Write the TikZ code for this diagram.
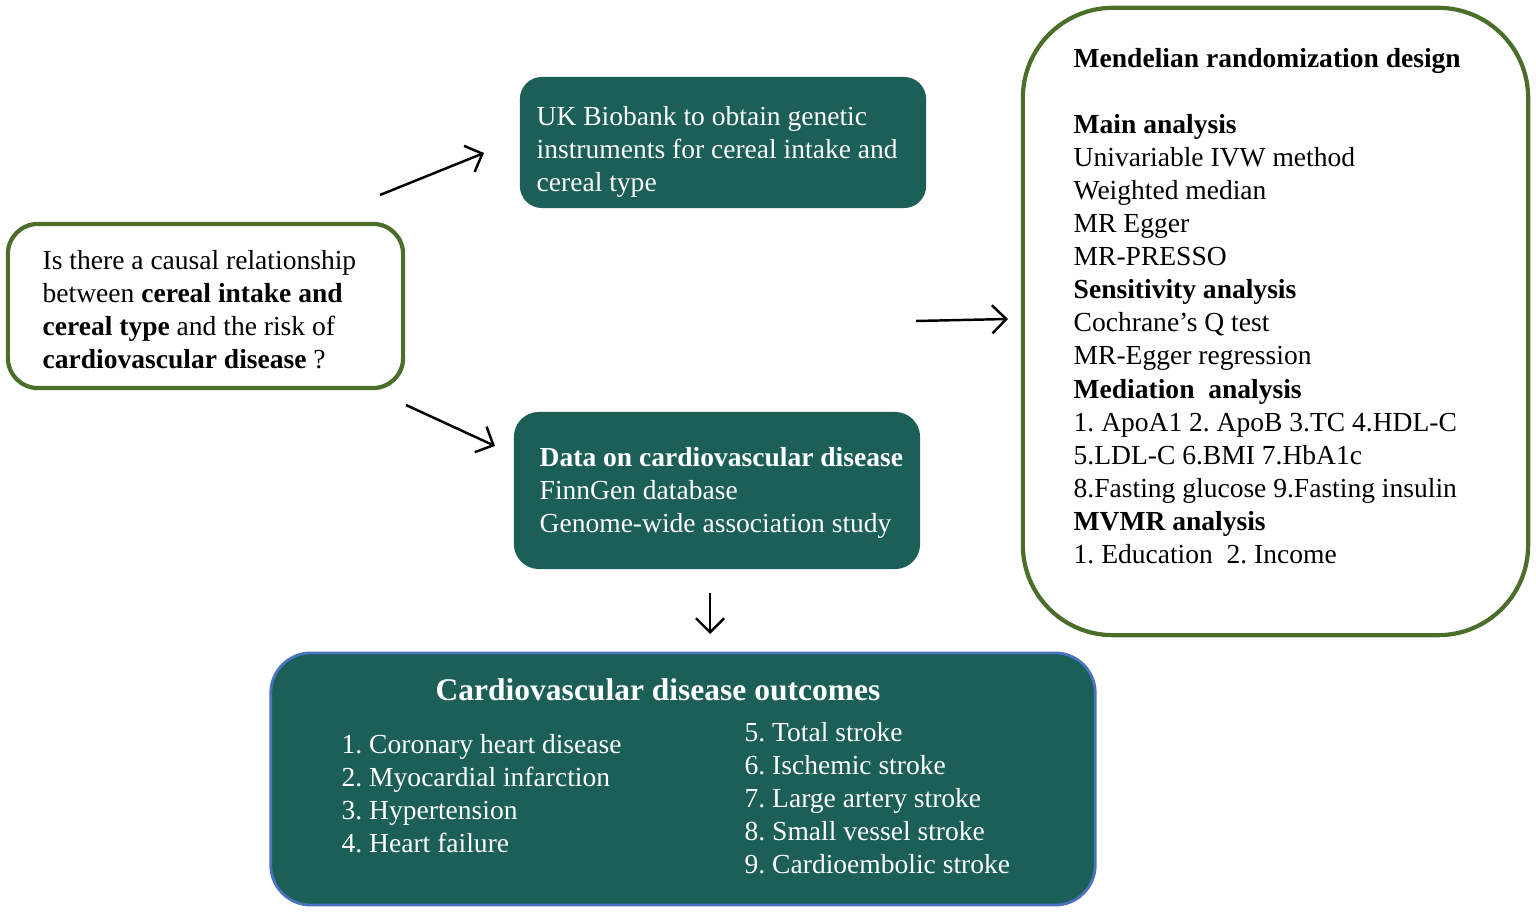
\documentclass[tikz,border=0pt]{standalone}
\usepackage{fontspec}
\setmainfont{Liberation Serif}
\usetikzlibrary{arrows.meta}
\definecolor{cvteal}{HTML}{1B5F57}
\definecolor{mrgreen}{HTML}{4B6E2A}
\definecolor{edgeblue}{HTML}{4A72BE}
\frenchspacing

\begin{document}
\begin{tikzpicture}[x=0.01cm, y=-0.01cm,
  txt/.style={font={\fontsize{7.83pt}{9.39pt}\selectfont}, align=left, inner sep=0pt, anchor=north west},
  greenbox/.style={draw=mrgreen, line width=1.2pt, fill=white, rounded corners=#1},
  tealbox/.style={fill=cvteal, rounded corners=#1},
  arr/.style={-{Straight Barb[length=4pt,width=8pt]}, line width=0.7pt}]
  \useasboundingbox (0,0) rectangle (1536,913);

  % question box
  \node[greenbox=0.3cm, minimum width=3.95cm, minimum height=1.64cm] (quest) at (205.5,306) {};
  \node[txt] (questtext) at (42,250)
    {Is there a causal relationship\\ between \textbf{cereal intake and}\\ \textbf{cereal type} and the risk of\\ \textbf{cardiovascular disease} ?};

  % exposure and outcome data
  \node[tealbox=0.22cm, minimum width=4.06cm, minimum height=1.31cm] (ukbb) at (723,142.5) {};
  \node[txt, text=white] (ukbbtext) at (536,106)
    {UK Biobank to obtain genetic\\ instruments for cereal intake and\\ cereal type};
  \node[tealbox=0.25cm, minimum width=4.06cm, minimum height=1.57cm] (finn) at (717,490.5) {};
  \node[txt, text=white] (finntext) at (539,447)
    {\textbf{Data on cardiovascular disease}\\ FinnGen database\\ Genome-wide association study};

  % MR design
  \node[greenbox=0.9cm, minimum width=5.05cm, minimum height=6.27cm] (mrbox) at (1275.5,321.5) {};
  \node[txt] (mrtext) at (1073,48)
    {\textbf{Mendelian randomization design}\\[9.39pt]
     \textbf{Main analysis}\\ Univariable IVW method\\ Weighted median\\ MR Egger\\ MR-PRESSO\\
     \textbf{Sensitivity analysis}\\ Cochrane’s Q test\\ MR-Egger regression\\
     \textbf{Mediation\ \ analysis}\\ 1. ApoA1 2. ApoB 3.TC 4.HDL-C\\ 5.LDL-C 6.BMI 7.HbA1c\\
     8.Fasting glucose 9.Fasting insulin\\
     \textbf{MVMR analysis}\\ 1. Education\ \ 2. Income};

  % outcomes
  \node[tealbox=0.4cm, draw=edgeblue, line width=0.8pt, minimum width=8.24cm, minimum height=2.52cm] (outbox) at (683,779) {};
  \node[text=white, font={\fontsize{8.96pt}{10.7pt}\selectfont\bfseries}] (outtitle) at (658,690) {Cardiovascular disease outcomes};
  \node[txt, text=white] (outleft) at (341,734)
    {1. Coronary heart disease\\ 2. Myocardial infarction\\ 3. Hypertension\\ 4. Heart failure};
  \node[txt, text=white] (outright) at (744,722)
    {5. Total stroke\\ 6. Ischemic stroke\\ 7. Large artery stroke\\ 8. Small vessel stroke\\ 9. Cardioembolic stroke};

  % arrows
  \coordinate (q2uk) at (380,195);   \coordinate (ukin) at (484,153);
  \coordinate (q2finn) at (406,405); \coordinate (finnin) at (495,446);
  \coordinate (mid2mr) at (916,321); \coordinate (mrin) at (1008,319);
  \coordinate (finn2out) at (710,593); \coordinate (outin) at (710,634);
  \draw[arr] (q2uk) -- (ukin);
  \draw[arr] (q2finn) -- (finnin);
  \draw[arr] (mid2mr) -- (mrin);
  \draw[arr] (finn2out) -- (outin);
\end{tikzpicture}
\end{document}
